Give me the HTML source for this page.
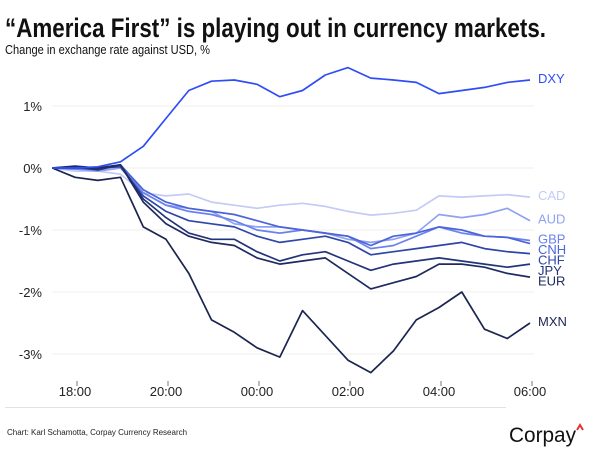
<!DOCTYPE html>
<html><head><meta charset="utf-8"><style>
html,body{margin:0;padding:0;background:#fff;}
svg{display:block;font-family:"Liberation Sans",sans-serif;}
</style></head><body>
<svg id="chart" width="601" height="456" viewBox="0 0 601 456" xmlns="http://www.w3.org/2000/svg">
<rect width="601" height="456" fill="#fff"/>
<text x="5" y="37" font-size="27" font-weight="bold" fill="#111" textLength="541" lengthAdjust="spacingAndGlyphs">“America First” is playing out in currency markets.</text>
<text x="5" y="54" font-size="13" fill="#111" textLength="205" lengthAdjust="spacingAndGlyphs">Change in exchange rate against USD, %</text>
<g id="grid"></g>
<g id="yaxis"></g>
<g id="xaxis"></g>
<g id="series"></g>
<g id="labels"></g>
<line x1="5" y1="407.5" x2="506" y2="407.5" stroke="#e2e2e2" stroke-width="1"/>
<text x="7" y="435" font-size="8" fill="#222">Chart: Karl Schamotta, Corpay Currency Research</text>
<text x="509" y="442" font-size="21" fill="#111" textLength="67" lengthAdjust="spacingAndGlyphs">Corpay</text>
<path d="M577 430 L580 425 L583 430" fill="none" stroke="#e0343c" stroke-width="2"/>
</svg>
<script>
const times = [-0.5,0,0.5,1,1.5,2,2.5,3,3.5,4,4.5,5,5.5,6,6.5,7,7.5,8,8.5,9,9.5,10];
const seriesNames = ["CAD","AUD","GBP","CNH","CHF","JPY","EUR","MXN","DXY"];
const cadValues = [0,-0.05,-0.05,-0.1,-0.4,-0.45,-0.42,-0.55,-0.6,-0.65,-0.6,-0.57,-0.62,-0.7,-0.76,-0.73,-0.68,-0.45,-0.47,-0.45,-0.43,-0.47];
const audValues = [0,-0.02,-0.05,0,-0.4,-0.6,-0.65,-0.7,-0.9,-0.95,-0.95,-1.0,-1.05,-1.15,-1.2,-1.15,-1.05,-0.75,-0.8,-0.75,-0.65,-0.85];
const gbpValues = [0,-0.02,0,0.05,-0.4,-0.6,-0.7,-0.75,-0.85,-1.0,-1.05,-1.0,-1.05,-1.1,-1.3,-1.25,-1.1,-0.95,-1.05,-1.1,-1.12,-1.17];
const cnhValues = [0,0,-0.03,0.05,-0.35,-0.55,-0.65,-0.7,-0.75,-0.85,-0.95,-1.0,-1.05,-1.1,-1.25,-1.1,-1.05,-0.95,-1.0,-1.1,-1.12,-1.22];
const chfValues = [0,0,0,0.02,-0.45,-0.7,-0.85,-0.9,-0.95,-1.1,-1.2,-1.15,-1.1,-1.2,-1.4,-1.35,-1.3,-1.25,-1.2,-1.3,-1.35,-1.38];
const jpyValues = [0,0.02,-0.03,0.05,-0.5,-0.8,-1.05,-1.15,-1.15,-1.35,-1.5,-1.4,-1.35,-1.5,-1.65,-1.55,-1.5,-1.45,-1.5,-1.55,-1.6,-1.55];
const eurValues = [0,0.03,0,0.05,-0.55,-0.9,-1.1,-1.2,-1.25,-1.45,-1.55,-1.5,-1.45,-1.7,-1.95,-1.85,-1.75,-1.55,-1.55,-1.6,-1.7,-1.76];
const mxnValues = [0,-0.15,-0.2,-0.15,-0.95,-1.15,-1.7,-2.45,-2.65,-2.9,-3.05,-2.3,-2.7,-3.1,-3.3,-2.95,-2.45,-2.25,-2.0,-2.6,-2.75,-2.5];
const dxyValues = [0,0,0.02,0.1,0.35,0.8,1.25,1.4,1.42,1.35,1.15,1.25,1.5,1.62,1.45,1.42,1.38,1.2,1.25,1.3,1.38,1.42];
const yTicks = [1,0,-1,-2,-3];
const yTickLabels = ["1%","0%","-1%","-2%","-3%"];
const xTicks = [0,2,4,6,8,10];
const xTickLabels = ["18:00","20:00","00:00","02:00","04:00","06:00"];

const NS="http://www.w3.org/2000/svg";
const xScale = t => 75 + t*45.5;
const yScale = v => 168 - v*62;
function mk(tag, attrs, parent){const e=document.createElementNS(NS,tag);for(const k in attrs)e.setAttribute(k,attrs[k]);parent.appendChild(e);return e;}
const grid=document.getElementById('grid'), yaxis=document.getElementById('yaxis'), xaxis=document.getElementById('xaxis');
yTicks.forEach((v,i)=>{
  const l=mk('line',{x1:52,x2:534,y1:yScale(v),y2:yScale(v),stroke:'#efefef','stroke-width':1},grid);
  
  
  const t=mk('text',{x:42,y:yScale(v)+5,'font-size':13,fill:'#222','text-anchor':'end'},yaxis);
  t.textContent=yTickLabels[i];
  
  
});
xTicks.forEach((v,i)=>{
  const l=mk('line',{x1:xScale(v)+2,x2:xScale(v)+2,y1:381,y2:386,stroke:'#555','stroke-width':0.8},xaxis);
  
  
  const t=mk('text',{x:xScale(v),y:396,'font-size':13,fill:'#222','text-anchor':'middle'},xaxis);
  t.textContent=xTickLabels[i];
  
  
});
const allValues=[cadValues,audValues,gbpValues,cnhValues,chfValues,jpyValues,eurValues,mxnValues,dxyValues];
const colors=["#c3cbf6","#8fa2f2","#6a82ef","#4b64d8","#2e46a8","#23347a","#1f2b60","#1b2550","#2f4df5"];
const labelGap = 10.5;
const seriesG=document.getElementById('series'), labelsG=document.getElementById('labels');
const order=allValues.map((v,i)=>i).sort((a,b)=>yScale(allValues[a][allValues[a].length-1])-yScale(allValues[b][allValues[b].length-1]));
const labelY={};
let prevY=-1e9;
order.forEach(i=>{let y=yScale(allValues[i][allValues[i].length-1]);if(y<prevY+labelGap)y=prevY+labelGap;labelY[i]=y;prevY=y;});
// relax upward: shift pushed labels up where room exists
for(let k=order.length-2;k>=0;k--){const a=order[k],b=order[k+1];const nat=yScale(allValues[a][allValues[a].length-1]);if(labelY[b]-labelY[a]>=labelGap){continue;}labelY[a]=labelY[b]-labelGap;}
for(let k=1;k<order.length;k++){const a=order[k-1],b=order[k];if(labelY[b]-labelY[a]<labelGap)labelY[b]=labelY[a]+labelGap;}
allValues.forEach((vals,i)=>{
  const d=vals.map((v,j)=>(j?'L':'M')+xScale(times[j]).toFixed(1)+' '+yScale(v).toFixed(1)).join(' ');
  const p=mk('path',{d:d,fill:'none',stroke:colors[i],'stroke-width':1.7,'stroke-linejoin':'round'},seriesG);
  
  
  const t=mk('text',{x:538,y:labelY[i]+3,'font-size':13,fill:colors[i]},labelsG);
  t.textContent=seriesNames[i];
  
  
});
</script>
</body></html>
